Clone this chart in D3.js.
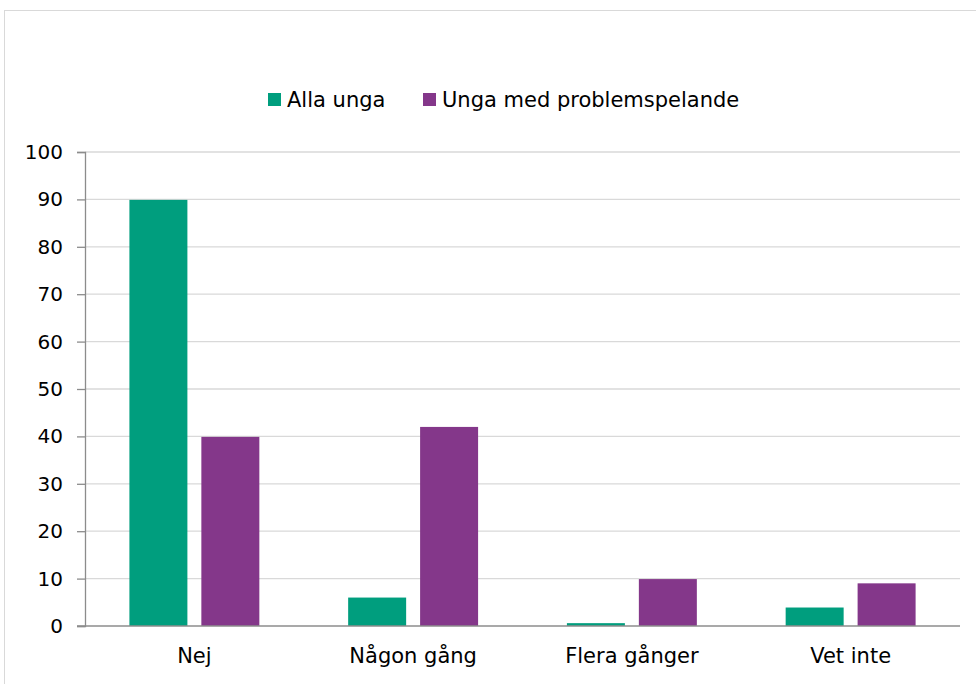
<!DOCTYPE html>
<html>
<head>
<meta charset="utf-8">
<script src="https://cdn.jsdelivr.net/npm/d3@7"></script>
<style>
  html, body { margin: 0; padding: 0; background: #fff; }
  svg { display: block; }
  text { font-family: "DejaVu Sans", Verdana, sans-serif; fill: #000; }
</style>
</head>
<body>
<svg id="chart" width="976" height="684"></svg>
<script>
const categories = ["Nej", "Någon gång", "Flera gånger", "Vet inte"];
const seriesNames = ["Alla unga", "Unga med problemspelande"];
const allaUnga = [89.9, 6, 0.6, 3.9];
const ungaProblem = [39.9, 42, 9.9, 9];
const yTicks = [0, 10, 20, 30, 40, 50, 60, 70, 80, 90, 100];
const colors = ["#009E7E", "#84378A"];

const seriesValues = [allaUnga, ungaProblem];
const svg = d3.select("#chart");

// chart border
svg.append("rect")
  .attr("x", 4.5).attr("y", 10.5)
  .attr("width", 990).attr("height", 700)
  .attr("fill", "none").attr("stroke", "#d9d9d9").attr("stroke-width", 1);

const mLeft = 85, mRight = 960, mTop = 152, mBottom = 626;

const x0 = d3.scaleBand().domain(categories).range([mLeft, mRight])
  .paddingInner(0.406).paddingOuter(0.203);
const x1 = d3.scaleBand().domain(seriesNames).range([0, x0.bandwidth()])
  .paddingInner(0.194);
const y = d3.scaleLinear().domain([0, 100]).range([mBottom, mTop]);

// gridlines
svg.append("g").selectAll("line").data(yTicks.filter(d => d > 0)).join("line")
  .attr("x1", mLeft).attr("x2", mRight)
  .attr("y1", d => y(d)).attr("y2", d => y(d))
  .attr("stroke", "#d9d9d9").attr("stroke-width", 1.3);

// y axis
const yAxis = d3.axisLeft(y).tickValues(yTicks).tickSize(8).tickPadding(14)
  .tickFormat(d3.format("d"));
const gy = svg.append("g").attr("transform", `translate(${mLeft},0)`).call(yAxis);
gy.select(".domain").attr("stroke", "#8c8c8c").attr("stroke-width", 1.3);
gy.selectAll(".tick line").attr("stroke", "#8c8c8c").attr("stroke-width", 1.3);
gy.selectAll(".tick text").attr("font-size", 20).attr("font-family", "'DejaVu Sans', Verdana, sans-serif").attr("fill", "#000");

// bars
const groups = svg.append("g").selectAll("g").data(categories).join("g")
  .attr("transform", d => `translate(${x0(d)},0)`);
groups.selectAll("rect")
  .data((c, i) => seriesNames.map((s, j) => ({ s, v: seriesValues[j][i], j })))
  .join("rect")
  .attr("x", d => x1(d.s))
  .attr("width", x1.bandwidth())
  .attr("y", d => y(d.v))
  .attr("height", d => y(0) - y(d.v))
  .attr("fill", d => colors[d.j]);

// x axis baseline
const xAxis = d3.axisBottom(x0).tickSize(0).tickPadding(22);
const gx = svg.append("g").attr("transform", `translate(0,${mBottom})`).call(xAxis);
gx.select(".domain").attr("stroke", "#8c8c8c").attr("stroke-width", 1.3)
  .attr("d", `M${mLeft - 8},0H${mRight}`);
gx.selectAll(".tick text").attr("font-size", 21).attr("font-family", "'DejaVu Sans', Verdana, sans-serif").attr("fill", "#000");

// legend
const legend = svg.append("g");
const legendItems = [
  { name: seriesNames[0], x: 268, color: colors[0] },
  { name: seriesNames[1], x: 423, color: colors[1] }
];
legendItems.forEach(it => {
  legend.append("rect").attr("x", it.x).attr("y", 93).attr("width", 13).attr("height", 13)
    .attr("fill", it.color);
  legend.append("text").attr("x", it.x + 19).attr("y", 100).attr("dy", "0.35em")
    .attr("font-size", 21).text(it.name);
});
</script>
</body>
</html>
